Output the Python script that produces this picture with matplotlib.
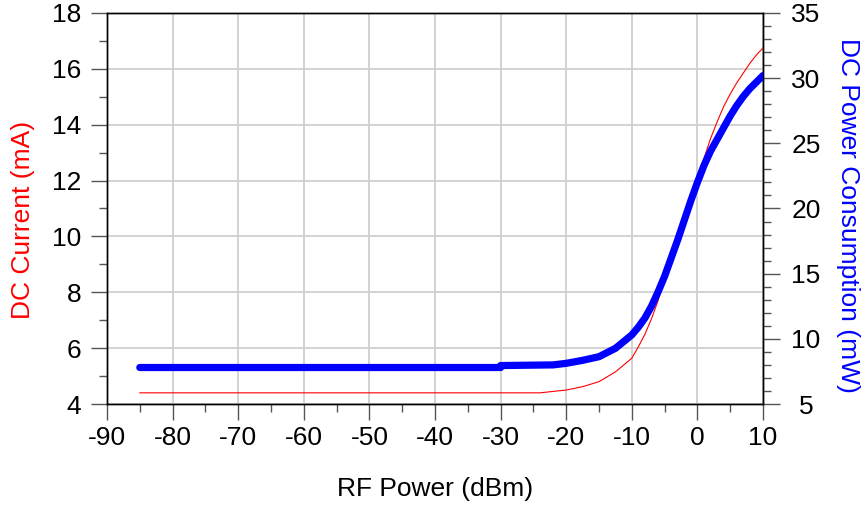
import matplotlib
matplotlib.use("Agg")
import matplotlib.pyplot as plt
from matplotlib.ticker import MultipleLocator

plt.rcParams["font.family"] = ["Liberation Sans", "DejaVu Sans"]
plt.rcParams["axes.unicode_minus"] = False

# ── measured sweep ────────────────────────────────────────────────────────────
rf_in_i = [-85, -24, -22, -20, -17.5, -15, -12.5, -10, -9, -8, -7, -6, -5, -4,
           -3, -2, -1, 0, 1, 2, 3, 4, 5, 6, 7, 8, 9, 10]
i_dc = [4.4, 4.4, 4.45, 4.5, 4.62, 4.8, 5.15, 5.64, 6.05, 6.5, 7.05, 7.7, 8.5,
        9.1, 9.7, 10.4, 11.2, 12.0, 12.8, 13.5, 14.1, 14.65, 15.1, 15.5,
        15.85, 16.2, 16.5, 16.75]

rf_in_p = [-85, -30, -30, -22, -20, -17.5, -15, -12.5, -10, -9, -8, -7, -6, -5,
           -4, -3, -2, -1, 0, 1, 2, 3, 4, 5, 6, 7, 8, 9, 10]
p_dc = [7.8, 7.8, 7.95, 8.0, 8.12, 8.35, 8.63, 9.27, 10.3, 10.9, 11.6, 12.5,
        13.6, 14.8, 16.2, 17.6, 19.1, 20.6, 22.0, 23.3, 24.4, 25.3, 26.2, 27.1,
        27.9, 28.6, 29.2, 29.7, 30.2]

C_I = "#ff0000"
C_P = "#0000ff"
FS = 19

fig = plt.figure(figsize=(8.65, 5.05), dpi=100)
ax = fig.add_axes([0.1237, 0.2, 0.7584, 0.7743])
ax2 = ax.twinx()

# current on the left axis, power on the right one (drawn on top)
ax.plot(rf_in_i, i_dc, color=C_I, lw=0.8, zorder=3)
ax2.plot(rf_in_p, p_dc, color=C_P, lw=5.2, solid_capstyle="round",
         solid_joinstyle="round", zorder=4)

ax.set_xlim(-90, 10)
ax.set_ylim(4, 18)
ax2.set_ylim(5, 35)

ax.xaxis.set_major_locator(MultipleLocator(10))
ax.xaxis.set_minor_locator(MultipleLocator(5))
ax.yaxis.set_major_locator(MultipleLocator(2))
ax.yaxis.set_minor_locator(MultipleLocator(1))
ax2.yaxis.set_major_locator(MultipleLocator(5))
ax2.yaxis.set_minor_locator(MultipleLocator(1))

ax.grid(True, which="major", color="#d0d0d0", lw=1.3)
ax.set_axisbelow(True)

for a in (ax, ax2):
    for s in a.spines.values():
        s.set_color("black")
        s.set_linewidth(1.0)

ax.tick_params(axis="both", which="major", direction="out", length=11.5,
               width=1.0, color="#555555", labelsize=FS, pad=7)
ax.tick_params(axis="both", which="minor", direction="out", length=5.8,
               width=1.0, color="#555555")
ax.tick_params(axis="x", which="major", pad=4)
ax2.tick_params(axis="y", which="major", direction="out", length=12,
                width=1.0, color="#555555", labelsize=FS, pad=19)
ax2.tick_params(axis="y", which="minor", direction="out", length=6,
                width=1.0, color="#555555")
plt.setp(ax2.get_yticklabels(), ha="center")

ax.set_xlabel("RF Power (dBm)", fontsize=FS, labelpad=20)
ax.set_ylabel("DC Current (mA)", fontsize=FS, color=C_I,
              ha="center", va="center", rotation_mode="default")
ax.yaxis.set_label_coords(-0.128, 0.47)
ax2.set_ylabel("DC Power Consumption (mW)", fontsize=FS, color=C_P,
               rotation=270, ha="center", va="center", rotation_mode="default")
ax2.yaxis.set_label_coords(1.129, 0.483)

fig.savefig("out.png", dpi=100)
